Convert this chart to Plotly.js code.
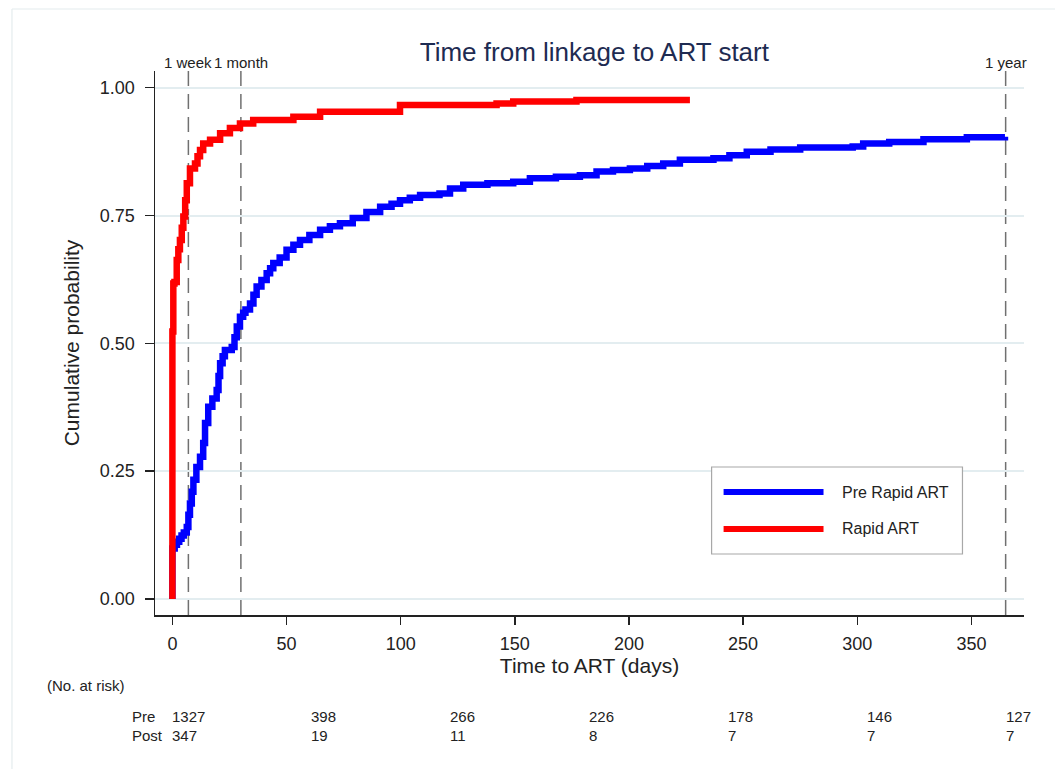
<!DOCTYPE html>
<html>
<head>
<meta charset="utf-8">
<script src="https://cdn.plot.ly/plotly-3.0.1.min.js"></script>
<style>
  html, body { margin: 0; padding: 0; background: #ffffff; }
  #chart { width: 1055px; height: 769px; }
</style>
</head>
<body>
<div id="chart"></div>
<script>
// ---- Data ----
const preDays = [0, 0, 1, 2, 3, 4, 5, 6.3, 7, 7.7, 8.5, 9.2, 10.5, 12.1, 13.5, 14.3, 15.7, 17.5, 19.4, 20.2, 20.9, 22, 23, 26, 27.2, 28.2, 29.6, 31, 32, 34, 35.5, 36.9, 39, 41.3, 42.8, 44.2, 47, 50, 53, 55.9, 60, 64.7, 69, 73.4, 79, 85, 91, 96, 99.7, 104, 108.5, 117, 121.6, 127.4, 138, 149.3, 156.6, 168, 178.5, 185.8, 193, 200.4, 208, 215, 222.3, 237, 244, 251.6, 262, 275, 298, 302.6, 314, 329, 348, 364.7];
const preProb = [0, 0.099, 0.106, 0.112, 0.118, 0.124, 0.130, 0.141, 0.165, 0.187, 0.210, 0.233, 0.258, 0.278, 0.305, 0.344, 0.376, 0.392, 0.409, 0.436, 0.461, 0.475, 0.487, 0.493, 0.512, 0.533, 0.552, 0.560, 0.566, 0.578, 0.595, 0.611, 0.624, 0.637, 0.647, 0.657, 0.668, 0.683, 0.693, 0.702, 0.712, 0.722, 0.729, 0.735, 0.745, 0.757, 0.767, 0.773, 0.780, 0.785, 0.790, 0.793, 0.803, 0.810, 0.813, 0.816, 0.823, 0.826, 0.829, 0.836, 0.839, 0.842, 0.847, 0.852, 0.859, 0.862, 0.868, 0.875, 0.879, 0.883, 0.885, 0.891, 0.894, 0.899, 0.903, 0.904];

const rapidDays = [0, 0, 0.4, 0.9, 1.9, 2.6, 3.3, 4.1, 4.8, 5.6, 6.3, 7.7, 9.9, 11, 12.1, 13.5, 16.5, 20.9, 25.2, 29.6, 35.4, 53, 64.7, 99.7, 142, 149.3, 177, 226.7];
const rapidProb = [0, 0.523, 0.617, 0.620, 0.663, 0.684, 0.702, 0.726, 0.748, 0.780, 0.813, 0.842, 0.852, 0.866, 0.878, 0.891, 0.898, 0.911, 0.921, 0.930, 0.937, 0.943, 0.953, 0.966, 0.969, 0.973, 0.976, 0.976];

const seriesNames = ["Pre Rapid ART", "Rapid ART"];
const xTicks = [0, 50, 100, 150, 200, 250, 300, 350];
const yTicks = [0, 0.25, 0.5, 0.75, 1.0];
const yTickLabels = ["0.00", "0.25", "0.50", "0.75", "1.00"];

const refDays = [7, 30, 365];
const refLabels = ["1 week", "1 month", "1 year"];

const riskTimes = [0, 60.8, 121.7, 182.5, 243.3, 304.2, 365];
const riskPre = [1327, 398, 266, 226, 178, 146, 127];
const riskPost = [347, 19, 11, 8, 7, 7, 7];
const riskRowLabels = ["Pre", "Post"];

// ---- Styling ----
const FONT = "Liberation Sans, Arial, Helvetica, sans-serif";
const BLUE = "#0000ff";
const RED = "#ff0000";

const traces = [
  {
    x: preDays, y: preProb, type: "scatter", mode: "lines",
    name: seriesNames[0],
    line: { color: BLUE, width: 6.5, shape: "hv" },
    showlegend: false, hoverinfo: "x+y+name"
  },
  {
    x: rapidDays, y: rapidProb, type: "scatter", mode: "lines",
    name: seriesNames[1],
    line: { color: RED, width: 6.5, shape: "hv" },
    showlegend: false, hoverinfo: "x+y+name"
  }
];

const shapes = [];
const annotations = [];

// outer light frame (top & left)
shapes.push({ type: "line", xref: "paper", yref: "paper", x0: -0.1646, x1: 1.04, y0: 1.114, y1: 1.114, line: { color: "#e4ecee", width: 1.2 } });
shapes.push({ type: "line", xref: "paper", yref: "paper", x0: -0.1646, x1: -0.1646, y0: 1.114, y1: -0.29, line: { color: "#e4ecee", width: 1.2 } });

// reference dashed vertical lines + labels
refDays.forEach((d, i) => {
  shapes.push({
    type: "line", xref: "x", yref: "paper", x0: d, x1: d, y0: 0, y1: 1,
    line: { color: "#707070", width: 1.5, dash: "15px,8px" }, layer: "below"
  });
  annotations.push({
    xref: "x", yref: "paper", x: d, y: 1.0156, xanchor: "center", yanchor: "middle",
    text: refLabels[i], showarrow: false, font: { family: FONT, size: 15, color: "#222222" }
  });
});

// manual legend (box, line samples, labels)
const legColors = [BLUE, RED];
const legY = [0.2261, 0.1581];
shapes.push({ type: "rect", xref: "paper", yref: "paper", x0: 0.6405, x1: 0.9292, y0: 0.1121, y1: 0.2721,
  line: { color: "#a8a8a8", width: 1.2 }, fillcolor: "#ffffff" });
seriesNames.forEach((n, i) => {
  shapes.push({ type: "line", xref: "paper", yref: "paper", x0: 0.6543, x1: 0.7693, y0: legY[i], y1: legY[i],
    line: { color: legColors[i], width: 6 } });
  annotations.push({ xref: "paper", yref: "paper", x: 0.7877, y: legY[i], xanchor: "left", yanchor: "middle",
    text: n, showarrow: false, font: { family: FONT, size: 16, color: "#222222" } });
});

// risk table
annotations.push({ xref: "paper", yref: "paper", x: -0.1265, y: -0.1305, xanchor: "left", yanchor: "middle",
  text: "(No. at risk)", showarrow: false, font: { family: FONT, size: 15, color: "#222222" } });
const rowY = [-0.1857, -0.2206];
[riskPre, riskPost].forEach((row, r) => {
  annotations.push({ xref: "paper", yref: "paper", x: -0.0282, y: rowY[r], xanchor: "left", yanchor: "middle",
    text: riskRowLabels[r], showarrow: false, font: { family: FONT, size: 15, color: "#222222" } });
  row.forEach((v, k) => {
    annotations.push({ xref: "x", yref: "paper", x: riskTimes[k], y: rowY[r], xanchor: "left", yanchor: "middle",
      xshift: -2, text: String(v), showarrow: false, font: { family: FONT, size: 15, color: "#222222" } });
  });
});

const layout = {
  width: 1055, height: 769,
  margin: { l: 155, r: 31, t: 71, b: 154, pad: 0 },
  paper_bgcolor: "#ffffff", plot_bgcolor: "#ffffff",
  font: { family: FONT, color: "#222222" },
  title: {
    text: "Time from linkage to ART start",
    font: { family: FONT, size: 26, color: "#1e2b52" },
    xref: "paper", x: 0.5056, xanchor: "center",
    yref: "container", y: 0.933, yanchor: "middle"
  },
  xaxis: {
    range: [-7.62, 373.04],
    tickmode: "array", tickvals: xTicks, ticktext: xTicks.map(String),
    ticks: "outside", ticklen: 8, tickwidth: 1.5, tickcolor: "#222222",
    showline: true, linecolor: "#222222", linewidth: 1.5,
    showgrid: false, zeroline: false,
    tickfont: { family: FONT, size: 18, color: "#222222" },
    ticklabelstandoff: 4,
    title: { text: "Time to ART (days)", font: { family: FONT, size: 21, color: "#222222" }, standoff: 2 },
    automargin: false, fixedrange: true
  },
  yaxis: {
    range: [-0.0313, 1.0327],
    tickmode: "array", tickvals: yTicks, ticktext: yTickLabels,
    ticks: "outside", ticklen: 9, tickwidth: 1.5, tickcolor: "#222222",
    showline: true, linecolor: "#222222", linewidth: 1.5,
    showgrid: true, gridcolor: "#e3edf0", gridwidth: 2, zeroline: false,
    tickfont: { family: FONT, size: 18, color: "#222222" },
    ticklabelstandoff: 6,
    title: { text: "Cumulative probability", font: { family: FONT, size: 21, color: "#222222" }, standoff: 14 },
    automargin: false, fixedrange: true
  },
  shapes: shapes,
  annotations: annotations,
  showlegend: false
};

Plotly.newPlot("chart", traces, layout, { displayModeBar: false, staticPlot: true });
</script>
</body>
</html>
